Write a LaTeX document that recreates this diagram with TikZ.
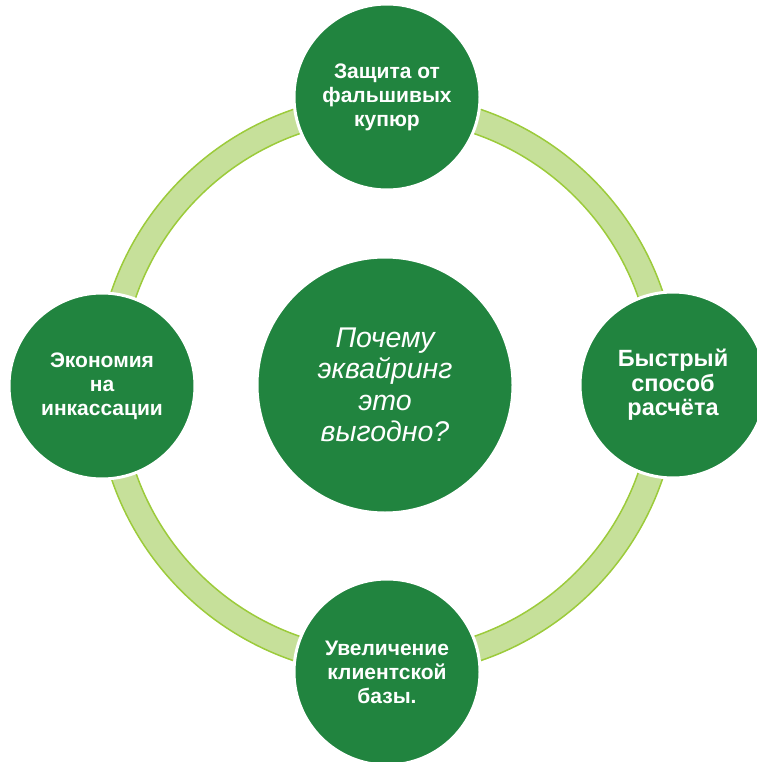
\documentclass[tikz,border=0pt]{standalone}
\usepackage{fontspec}
\setmainfont{Liberation Sans}
\definecolor{dkgreen}{RGB}{33,132,63}
\definecolor{ringfill}{RGB}{198,224,154}
\definecolor{ringedge}{RGB}{156,203,59}
\begin{document}
\begin{tikzpicture}[x=1pt,y=-1pt,
  bigc/.style={circle,fill=dkgreen,draw=white,line width=3pt,minimum size=#1,inner sep=0pt,
    text=white,align=center},
  small/.style={bigc=186pt,font=\fontsize{21}{24}\selectfont\bfseries},
  central/.style={bigc=256pt,font=\fontsize{28.5}{31.5}\selectfont\itshape}]
\useasboundingbox (0,0) rectangle (756,762);
\coordinate (o) at (387,385);
\fill[ringfill,even odd rule] (o) circle[radius=291pt] (o) circle[radius=266pt];
\draw[ringedge,line width=1.5pt] (o) circle[radius=291pt];
\draw[ringedge,line width=1.5pt] (o) circle[radius=266pt];
\node[central] (c) at (385,385) {Почему\\эквайринг\\это\\выгодно?};
\node[small] (t) at (387,97) {Защита от\\фальшивых\\купюр};
\node[small,font=\fontsize{23.5}{24.5}\selectfont\bfseries] (r) at (673,385) {Быстрый\\способ\\расчёта};
\node[small] (b) at (387,672) {Увеличение\\клиентской\\базы.};
\node[small] (l) at (102,386) {Экономия\\на\\инкассации};
\end{tikzpicture}
\end{document}
